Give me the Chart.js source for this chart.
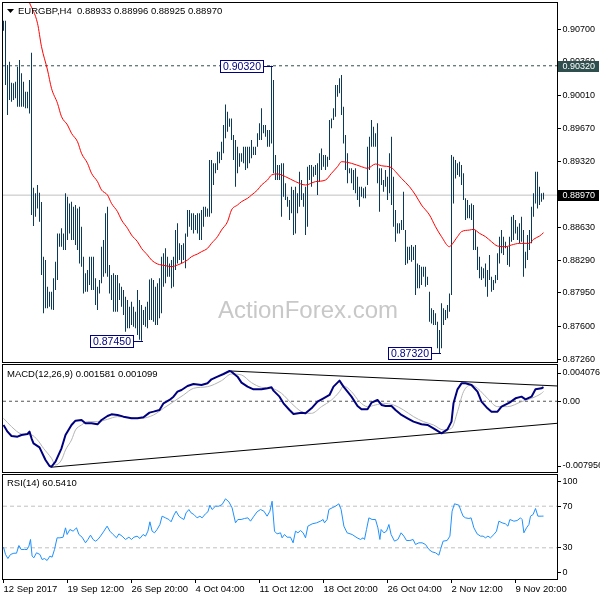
<!DOCTYPE html>
<html>
<head>
<meta charset="utf-8">
<script src="https://cdn.jsdelivr.net/npm/chart.js@4.4.0/dist/chart.umd.min.js"></script>
<style>
  html, body { margin: 0; padding: 0; background: #fff; }
  #wrap { position: relative; width: 600px; height: 600px; overflow: hidden; background: #fff; }
  canvas { position: absolute; left: 0; }
</style>
</head>
<body>
<div id="wrap">
  <canvas id="priceCv" width="600" height="364" style="top:0;width:600px;height:364px"></canvas>
  <canvas id="macdCv" width="600" height="110" style="top:364px;width:600px;height:110px"></canvas>
  <canvas id="rsiCv" width="600" height="126" style="top:474px;width:600px;height:126px"></canvas>
</div>
<script>
// EURGBP H4 bars, one per index (0 = 12 Sep 2017 00:00)
const highs = [
  0.90790, 0.90790, 0.90328, 0.90363, 0.90143, 0.90137, 0.90154, 0.90310, 0.90380, 0.90241,
  0.90154, 0.90050, 0.90050, 0.90171, 0.90456, 0.89048, 0.88989, 0.89076, 0.88996, 0.88898,
  0.88328, 0.88293, 0.88015, 0.87963, 0.87963, 0.88102, 0.88276, 0.88571, 0.88571, 0.88624,
  0.88571, 0.88989, 0.88954, 0.88884, 0.88902, 0.88850, 0.88867, 0.88832, 0.88850, 0.88641,
  0.88328, 0.88154, 0.88189, 0.88328, 0.88328, 0.88328, 0.88102, 0.88015, 0.88085, 0.88432,
  0.88502, 0.88780, 0.88850, 0.88241, 0.88137, 0.88154, 0.88137, 0.88137, 0.88050, 0.88015,
  0.87980, 0.87911, 0.87876, 0.87806, 0.87858, 0.87806, 0.87754, 0.87980, 0.87876, 0.87824,
  0.87771, 0.87806, 0.87858, 0.88091, 0.88102, 0.88085, 0.88015, 0.88050, 0.88102, 0.88328,
  0.88363, 0.88415, 0.88328, 0.88258, 0.88293, 0.88328, 0.88606, 0.88676, 0.88467, 0.88450,
  0.88467, 0.88571, 0.88815, 0.88815, 0.88780, 0.88780, 0.88763, 0.88780, 0.88780, 0.88815,
  0.88850, 0.88850, 0.88832, 0.89337, 0.89337, 0.89302, 0.89302, 0.89424, 0.89424, 0.89528,
  0.89702, 0.89917, 0.89841, 0.89771, 0.89771, 0.89597, 0.89545, 0.89476, 0.89406, 0.89406,
  0.89476, 0.89476, 0.89476, 0.89476, 0.89545, 0.89476, 0.89476, 0.89615, 0.89719, 0.89876,
  0.89702, 0.89702, 0.89650, 0.89650, 0.90320, 0.90171, 0.89389, 0.89284, 0.89284, 0.89302,
  0.89302, 0.89093, 0.88954, 0.88919, 0.89058, 0.89024, 0.89058, 0.88989, 0.89215, 0.89128,
  0.88989, 0.89058, 0.89267, 0.89284, 0.89284, 0.89267, 0.89284, 0.89302, 0.89406, 0.89458,
  0.89389, 0.89389, 0.89371, 0.89754, 0.89771, 0.89876, 0.90119, 0.90119, 0.90189, 0.90223,
  0.89893, 0.89597, 0.89406, 0.89250, 0.89250, 0.89232, 0.89250, 0.89163, 0.89058, 0.89058,
  0.89041, 0.89058, 0.89476, 0.89580, 0.89754, 0.89684, 0.89615, 0.89719, 0.89250, 0.89250,
  0.89128, 0.89232, 0.89163, 0.89406, 0.89580, 0.89163, 0.88815, 0.88676, 0.88676, 0.88711,
  0.89006, 0.88606, 0.88432, 0.88432, 0.88450, 0.88432, 0.88450, 0.88258, 0.88241, 0.88224,
  0.88224, 0.88224, 0.88119, 0.87963, 0.87789, 0.87771, 0.87737, 0.87650, 0.87563, 0.87841,
  0.87789, 0.87771, 0.87824, 0.87945, 0.89389, 0.89371, 0.89337, 0.89302, 0.89319, 0.89284,
  0.89198, 0.88937, 0.88919, 0.88867, 0.88884, 0.88867, 0.88606, 0.88432, 0.88328, 0.88224,
  0.88206, 0.88258, 0.88189, 0.88345, 0.88119, 0.88085, 0.88137, 0.88363, 0.88537, 0.88606,
  0.88537, 0.88484, 0.88432, 0.88537, 0.88745, 0.88763, 0.88711, 0.88641, 0.88676, 0.88745,
  0.88606, 0.88380, 0.88554, 0.88606, 0.88850, 0.88989, 0.89215, 0.89215, 0.89058, 0.88989,
  0.88996
];
const lows = [
  0.90686, 0.90119, 0.89806, 0.89963, 0.89945, 0.89963, 0.89980, 0.89893, 0.89893, 0.89893,
  0.89893, 0.89876, 0.89876, 0.89823, 0.88763, 0.88648, 0.88745, 0.88832, 0.88693, 0.88137,
  0.87737, 0.87789, 0.87789, 0.87806, 0.87778, 0.87771, 0.87980, 0.88085, 0.88432, 0.88432,
  0.88398, 0.88398, 0.88502, 0.88571, 0.88502, 0.88502, 0.88450, 0.88398, 0.88258, 0.88224,
  0.87945, 0.87963, 0.87963, 0.88032, 0.87980, 0.87980, 0.87824, 0.87771, 0.87945, 0.88050,
  0.88119, 0.88154, 0.88119, 0.87945, 0.87876, 0.87754, 0.87754, 0.87754, 0.87876, 0.87806,
  0.87719, 0.87545, 0.87580, 0.87580, 0.87615, 0.87598, 0.87580, 0.87510, 0.87460, 0.87450,
  0.87615, 0.87598, 0.87580, 0.87667, 0.87667, 0.87650, 0.87615, 0.87615, 0.87685, 0.87737,
  0.88015, 0.88050, 0.88119, 0.88119, 0.87998, 0.88015, 0.88189, 0.88258, 0.88293, 0.88258,
  0.88293, 0.88206, 0.88537, 0.88641, 0.88606, 0.88571, 0.88606, 0.88571, 0.88502, 0.88502,
  0.88641, 0.88745, 0.88745, 0.88745, 0.88780, 0.89076, 0.89198, 0.89232, 0.89302, 0.89337,
  0.89406, 0.89563, 0.89632, 0.89684, 0.89545, 0.89337, 0.89058, 0.89198, 0.89267, 0.89319,
  0.89302, 0.89232, 0.89250, 0.89302, 0.89354, 0.89389, 0.89389, 0.89476, 0.89545, 0.89545,
  0.89615, 0.89580, 0.89476, 0.89476, 0.89510, 0.89198, 0.89128, 0.89128, 0.89128, 0.88745,
  0.88954, 0.88919, 0.88850, 0.88711, 0.88780, 0.88554, 0.88571, 0.88780, 0.88850, 0.88919,
  0.88850, 0.88554, 0.88641, 0.89128, 0.89058, 0.89163, 0.89180, 0.88971, 0.89111, 0.89232,
  0.89267, 0.89232, 0.89267, 0.89337, 0.89667, 0.89754, 0.89789, 0.89997, 0.90032, 0.89806,
  0.89510, 0.89232, 0.89093, 0.89198, 0.89093, 0.89024, 0.88989, 0.88919, 0.88850, 0.88954,
  0.88937, 0.88937, 0.89076, 0.89232, 0.89476, 0.89476, 0.89476, 0.89093, 0.88798, 0.89076,
  0.89006, 0.89058, 0.88919, 0.88989, 0.88867, 0.88641, 0.88485, 0.88571, 0.88571, 0.88606,
  0.88606, 0.88241, 0.88258, 0.88293, 0.88276, 0.88293, 0.87928, 0.87998, 0.87998, 0.88032,
  0.88119, 0.88015, 0.88032, 0.87650, 0.87632, 0.87615, 0.87615, 0.87372, 0.87320, 0.87372,
  0.87615, 0.87667, 0.87685, 0.87754, 0.87928, 0.88884, 0.89145, 0.89180, 0.89163, 0.89076,
  0.88919, 0.88711, 0.88728, 0.88728, 0.88711, 0.88398, 0.88398, 0.88189, 0.88102, 0.88085,
  0.88102, 0.88015, 0.87911, 0.88085, 0.87963, 0.87980, 0.88050, 0.88085, 0.88258, 0.88363,
  0.88345, 0.88415, 0.88241, 0.88224, 0.88484, 0.88502, 0.88571, 0.88502, 0.88467, 0.88484,
  0.88119, 0.88206, 0.88293, 0.88398, 0.88467, 0.88745, 0.88884, 0.88832, 0.88867, 0.88902,
  0.88925
];

// red moving average (bar index, price)
const maIdx = [13, 17, 19, 22, 24, 27, 29, 32, 34, 37, 39, 42, 44, 47, 49, 52, 54, 57, 59, 62,
  64, 67, 69, 72, 74, 77, 79, 82, 84, 87, 89, 92, 94, 97, 99, 102, 104, 107, 109, 112,
  114, 117, 119, 122, 124, 127, 129, 132, 134, 137, 141, 146, 151, 156, 161, 164, 167, 169, 174, 179,
  182, 186, 189, 194, 196, 199, 203, 206, 209, 213, 216, 219, 223, 224, 227, 229, 233, 235, 238, 241,
  244, 247, 251, 254, 258, 263, 265, 268, 270];
const maVal = [0.90978, 0.90763, 0.90519, 0.90276, 0.90084, 0.89928, 0.89789, 0.89702, 0.89615, 0.89528,
  0.89406, 0.89302, 0.89198, 0.89111, 0.89024, 0.88971, 0.88884, 0.88798, 0.88711, 0.88624,
  0.88554, 0.88484, 0.88415, 0.88345, 0.88293, 0.88252, 0.88241, 0.88230, 0.88224, 0.88241,
  0.88258, 0.88293, 0.88328, 0.88356, 0.88380, 0.88415, 0.88467, 0.88537, 0.88606, 0.88693,
  0.88815, 0.88867, 0.88902, 0.88937, 0.88971, 0.89024, 0.89076, 0.89128, 0.89180, 0.89191,
  0.89163, 0.89111, 0.89076, 0.89111, 0.89128, 0.89198, 0.89267, 0.89319, 0.89302, 0.89267,
  0.89250, 0.89295, 0.89277, 0.89257, 0.89215, 0.89145, 0.89058, 0.88971, 0.88867, 0.88763,
  0.88641, 0.88537, 0.88432, 0.88450, 0.88537, 0.88589, 0.88606, 0.88613, 0.88571, 0.88537,
  0.88484, 0.88439, 0.88432, 0.88450, 0.88467, 0.88467, 0.88509, 0.88543, 0.88578];

// MACD(12,26,9) main line
const macdIdx = [0, 2, 4, 7, 9, 12, 13, 14, 15, 18, 19, 21, 23, 24, 26, 29, 31, 34, 36, 39,
  41, 44, 47, 49, 52, 54, 57, 60, 64, 67, 70, 73, 75, 78, 80, 83, 85, 87, 89, 92,
  95, 99, 102, 104, 107, 110, 113, 114, 117, 119, 122, 125, 129, 132, 134, 135, 138, 140, 143, 145,
  149, 151, 154, 157, 160, 163, 165, 168, 170, 174, 177, 179, 182, 184, 187, 189, 191, 194, 196, 199,
  202, 205, 209, 212, 215, 219, 222, 224, 225, 227, 229, 231, 234, 237, 239, 242, 244, 247, 249, 253,
  256, 259, 261, 264, 266, 269, 270];
const macdVal = [-0.002669, -0.003418, -0.003905, -0.003980, -0.003793, -0.003680, -0.003418, -0.004167, -0.004730, -0.005179,
  -0.005666, -0.006603, -0.007277, -0.007352, -0.006790, -0.005292, -0.003793, -0.002669, -0.002182, -0.002107,
  -0.002481, -0.002481, -0.002594, -0.002107, -0.001657, -0.001470, -0.001545, -0.001732, -0.001919, -0.001919,
  -0.001807, -0.001282, -0.001170, -0.000983, -0.000233, 0.000142, 0.000516, 0.001078, 0.001266, 0.001715,
  0.001940, 0.001828, 0.002015, 0.002465, 0.002765, 0.003064, 0.003402, 0.003327, 0.002765, 0.002090,
  0.001640, 0.001341, 0.001341, 0.001453, 0.001565, 0.001191, 0.000516, -0.000233, -0.000983, -0.001432,
  -0.001282, -0.001357, -0.000795, -0.000046, 0.000329, 0.000704, 0.001640, 0.002315, 0.001640, 0.000516,
  -0.000533, -0.000908, -0.000908, -0.000158, 0.000142, -0.000420, -0.000533, -0.000533, -0.000983, -0.001545,
  -0.001919, -0.002294, -0.002594, -0.002669, -0.003043, -0.003605, -0.003156, -0.002294, -0.000233, 0.001341,
  0.002015, 0.002015, 0.001828, 0.001078, -0.000046, -0.000795, -0.001170, -0.001170, -0.000608, -0.000158,
  0.000329, 0.000516, 0.000217, 0.000516, 0.001341, 0.001453, 0.001581];

// MACD signal line
const sigIdx = [0, 4, 9, 14, 17, 20, 24, 26, 29, 31, 34, 36, 39, 42, 47, 52, 57, 62, 69, 75,
  80, 85, 90, 95, 102, 109, 114, 119, 124, 129, 134, 139, 144, 149, 154, 159, 164, 168, 170, 174,
  178, 182, 186, 190, 195, 200, 205, 210, 215, 220, 224, 227, 230, 234, 237, 242, 247, 252, 259, 264,
  269, 270];
const sigVal = [-0.001919, -0.002856, -0.003680, -0.003793, -0.004355, -0.005292, -0.006416, -0.007165, -0.006603, -0.005479,
  -0.004355, -0.003231, -0.002669, -0.002294, -0.002294, -0.002032, -0.001732, -0.001807, -0.001919, -0.001545,
  -0.000795, -0.000046, 0.000704, 0.001453, 0.001640, 0.002315, 0.003064, 0.002952, 0.002090, 0.001565,
  0.001453, 0.000891, -0.000233, -0.001170, -0.001357, -0.000608, 0.000142, 0.001078, 0.001715, 0.001078,
  -0.000046, -0.000608, -0.000420, -0.000233, -0.000420, -0.000983, -0.001732, -0.002294, -0.002669, -0.003231,
  -0.003043, -0.001170, 0.001078, 0.001828, 0.001453, 0.000329, -0.000608, -0.000608, -0.000046, 0.000329,
  0.000891, 0.001099];

// trend lines drawn on the MACD window (bar index, value)
const upperTrendIdx = [113.5, 276.75];
const upperTrendVal = [0.003402, 0.001719];
const lowerTrendIdx = [23.5, 276.75];
const lowerTrendVal = [-0.007423, -0.002482];

// RSI(14)
const rsiIdx = [0, 1, 2.2, 3.5, 5.2, 6.5, 7.7, 8.8, 10.5, 11.8, 12.7, 13.5, 14.3, 15.2, 16.5, 18.2, 19.3, 20.5, 21.8, 23.2,
  24.3, 25.5, 26.8, 28.2, 29.8, 31, 31.8, 33.2, 34.8, 36.5, 37.7, 39.3, 41, 42.2, 43.5, 44.8, 46, 47.2, 48.5, 50.2,
  51.8, 53.2, 54.8, 56.5, 57.7, 59.3, 61, 62.7, 64, 65.2, 66.8, 68.2, 69.8, 71, 72.2, 73.2, 74.3, 75.5, 76.8, 78.2,
  79.3, 81, 82.7, 83.8, 85.2, 86.3, 87.7, 88.8, 90.2, 91.3, 92.7, 93.8, 95.2, 96.8, 98.2, 99.3, 101, 102.2, 103.2, 104.3,
  106, 107.7, 109.3, 111, 112.7, 114.3, 116, 117.2, 118.8, 120.5, 122.2, 123.5, 125.2, 126.8, 128.5, 130.2, 131.8, 133.2, 134.3, 135.5,
  136.8, 138.5, 139.3, 140.5, 141.8, 143.5, 144.8, 146, 147.2,
  148.5, 149.8, 151, 152.2, 154.3, 156.5, 158.5, 159.8, 160.5, 161.8, 162.7, 164.3, 166, 167.7, 168.8, 170.2, 171.8, 174.3, 176.8, 178.5,
  179.8, 180.5, 181.5, 182.7, 184.3, 186, 187.2, 188.2, 188.8, 190.2, 191.5, 192.7, 193.8, 195.5, 197.2, 198.8, 200.2, 201.5, 203.2, 204.8,
  206, 207.7, 209.3, 211, 212.7, 214.3, 216, 217.7, 218.5, 219.8, 221.8, 223.2, 224.3, 225.5, 227.7, 228.8, 229.8, 231, 232.7, 233.8,
  235.2, 236.8, 238.5, 239.8, 241, 242.2, 243.5, 245.2, 246.5, 247.7, 249.3, 251, 252.2, 253.2, 255.2, 256.8, 258.5, 259.3, 260.2, 261.5,
  262.7, 263.5, 264.8, 266, 267.2, 268.8, 270];
const rsiVal = [30.6, 23.6, 19.7, 23.6, 24.8, 24.8, 32.2, 28.4, 28.4, 28.4, 31.6, 38.0, 22.0, 20.4, 25.2, 23.6, 18.7, 19.7, 17.8, 22.0,
  21.0, 28.4, 39.6, 39.6, 40.2, 49.2, 42.8, 47.6, 46.0, 49.2, 42.8, 40.2, 34.8, 38.0, 42.2, 38.0, 36.4, 38.0, 41.2, 46.0,
  50.8, 46.0, 42.8, 39.6, 43.4, 41.2, 38.0, 40.2, 38.0, 40.2, 41.2, 39.0, 42.8, 41.2, 46.0, 55.0, 46.0, 44.4, 47.6, 52.4,
  60.4, 58.8, 57.2, 55.0, 61.4, 65.2, 60.4, 58.8, 57.2, 63.6, 66.8, 63.6, 62.0, 58.8, 60.4, 58.8, 62.7, 64.6, 71.0, 66.8,
  70.0, 70.0, 71.6, 77.1, 74.2, 68.4, 54.0, 57.2, 57.2, 58.2, 58.8, 55.6, 60.4, 64.6, 66.8, 65.2, 60.4, 65.2, 74.8, 46.0,
  43.4, 44.4, 39.6, 42.8, 40.2, 40.2, 34.8, 46.0, 44.4,
  46.6, 44.4, 39.6, 50.8, 53.0, 54.0, 55.6, 57.2, 54.0, 57.2, 66.8, 68.4, 70.0, 72.3, 66.8, 50.8, 44.4, 42.8, 39.6, 38.0,
  39.6, 38.0, 47.6, 58.8, 57.2, 57.2, 49.2, 38.0, 47.6, 44.4, 46.0, 52.4, 42.8, 36.4, 38.0, 44.4, 41.2, 37.0, 37.0, 38.0,
  33.2, 34.8, 34.8, 33.2, 28.4, 26.1, 25.2, 22.9, 28.4, 36.4, 37.0, 41.2, 65.2, 72.3, 71.0, 65.2, 60.4, 58.8, 58.2, 58.8,
  49.2, 43.4, 41.2, 41.2, 39.6, 41.2, 39.6, 42.8, 46.0, 55.6, 54.0, 53.0, 50.8, 57.2, 55.6, 56.2, 58.8, 57.2, 44.4, 49.2,
  52.4, 60.4, 62.0, 67.8, 60.4, 60.4, 60.5];
const rsiLevels = [30, 70];

// axis ticks and labels
const xTickIdx = [0, 32, 64, 96, 128, 160, 192, 224, 256];
const xTickLabels = ['12 Sep 2017', '19 Sep 12:00', '26 Sep 20:00', '4 Oct 04:00', '11 Oct 12:00',
  '18 Oct 20:00', '26 Oct 04:00', '2 Nov 12:00', '9 Nov 20:00'];
const priceTicks = [0.87260, 0.87600, 0.87950, 0.88290, 0.88630, 0.89320, 0.89670, 0.90010, 0.90360, 0.90700];
const macdLabels = ['-0.007956', '0.00', '0.004076'];
const rsiLabels = ['0', '30', '70', '100'];

// marked levels
const lastPrice = 0.88970;
const highLevel = 0.90320;
const annIdx = [134, 69, 218];
const annVal = [0.90320, 0.87450, 0.87320];
const annText = ['0.90320', '0.87450', '0.87320'];

const titleText = 'EURGBP,H4  0.88933 0.88996 0.88925 0.88970';
const macdTitle = 'MACD(12,26,9) 0.001581 0.001099';
const rsiTitle = 'RSI(14) 60.5410';

const X_MIN = -0.25, X_MAX = 276.75;
const P_MIN = 0.87229, P_MAX = 0.90975;
const M_MIN = -0.007956, M_MAX = 0.004076;

const FAMILY = '"Liberation Sans", Arial, sans-serif';
const SMALL = '9.5px ' + FAMILY;
const AXIS = '9px ' + FAMILY;
Chart.defaults.font.family = FAMILY;
Chart.defaults.font.size = 9;
Chart.defaults.color = '#000';
Chart.defaults.animation = false;
Chart.defaults.events = [];
Chart.defaults.plugins.legend.display = false;
Chart.defaults.plugins.tooltip.enabled = false;

const pts = (xs, ys) => xs.map((x, k) => ({ x: x, y: ys[k] }));
const flat = v => [{ x: X_MIN, y: v }, { x: X_MAX, y: v }];

function xScale(show) {
  return {
    type: 'linear', min: X_MIN, max: X_MAX, offset: false, display: show,
    grid: { drawOnChartArea: false, drawTicks: true, tickLength: 4, color: '#000' },
    border: { display: false },
    afterBuildTicks: s => { s.ticks = xTickIdx.map(v => ({ value: v })); },
    afterFit: s => { s.height = show ? 21 : 0; s.paddingLeft = 0; s.paddingRight = 0; },
    ticks: { align: 'start', autoSkip: false, maxRotation: 0, padding: 1, font: { size: 9.5 },
      callback: (v, k) => xTickLabels[k] }
  };
}

function yScale(min, max, vals, text) {
  return {
    type: 'linear', position: 'right', min: min, max: max,
    grid: { drawOnChartArea: false, drawTicks: true, tickLength: 4, color: '#000' },
    border: { display: false },
    afterBuildTicks: s => { s.ticks = vals.map(v => ({ value: v })); },
    afterFit: s => { s.width = 43; s.paddingTop = 0; s.paddingBottom = 0; },
    ticks: { padding: 1.5, autoSkip: false, callback: (v, k) => text[k] }
  };
}

const frame = {
  id: 'frame',
  afterDraw(chart) {
    const { ctx, chartArea: a } = chart;
    ctx.save();
    ctx.strokeStyle = '#000';
    ctx.lineWidth = 1;
    ctx.strokeRect(a.left - 0.5, a.top - 0.5, a.right - a.left + 1, a.bottom - a.top + 1);
    ctx.restore();
  }
};

function caption(text, yMid) {
  return {
    id: 'caption',
    afterDraw(chart) {
      const ctx = chart.ctx;
      ctx.save();
      ctx.font = SMALL;
      ctx.fillStyle = '#000';
      ctx.textBaseline = 'middle';
      ctx.fillText(text, 7, yMid);
      ctx.restore();
    }
  };
}

const priceDecor = {
  id: 'priceDecor',
  beforeDatasetsDraw(chart) {
    const ctx = chart.ctx;
    ctx.save();
    ctx.font = '24px ' + FAMILY;
    ctx.fillStyle = '#c8c8c8';
    ctx.fillText('ActionForex.com', 218, 318);
    ctx.restore();
  },
  afterDraw(chart) {
    const { ctx, scales: { x, y } } = chart;
    ctx.save();
    // title
    ctx.fillStyle = '#000';
    ctx.beginPath();
    ctx.moveTo(7, 9); ctx.lineTo(14, 9); ctx.lineTo(10.5, 13); ctx.closePath();
    ctx.fill();
    ctx.font = SMALL;
    ctx.textBaseline = 'middle';
    ctx.fillText(titleText, 18, 11);

    // boxed high / low labels
    ctx.font = '10.5px ' + FAMILY;
    ctx.lineWidth = 1;
    annIdx.forEach((idx, k) => {
      const px = Math.round(x.getPixelForValue(idx));
      const py = Math.round(y.getPixelForValue(annVal[k])) + 0.5;
      const w = 43, h = 12, right = px - 9;
      ctx.fillStyle = '#fff';
      ctx.fillRect(right - w, py - h / 2, w, h);
      ctx.strokeStyle = '#000080';
      ctx.strokeRect(right - w + 0.5, py - h / 2, w, h);
      ctx.beginPath();
      ctx.moveTo(right, py); ctx.lineTo(px + 1, py);
      ctx.stroke();
      ctx.fillStyle = '#000080';
      ctx.textAlign = 'center';
      ctx.fillText(annText[k], right - w / 2 + 0.5, py + 0.5);
    });

    // price labels on the axis
    ctx.textAlign = 'left';
    ctx.font = AXIS;
    [[highLevel, '#2f4f4f'], [lastPrice, '#000']].forEach(([v, fill]) => {
      const py = Math.round(y.getPixelForValue(v));
      ctx.fillStyle = fill;
      ctx.fillRect(558, py - 5, 41, 11);
      ctx.fillStyle = '#fff';
      ctx.fillText(v.toFixed(5), 562.5, py + 0.5);
    });
    ctx.restore();
  }
};

new Chart(document.getElementById('priceCv'), {
  type: 'bar',
  data: {
    datasets: [
      { type: 'line', data: flat(lastPrice), borderColor: '#c0c0c0', borderWidth: 1, pointRadius: 0, order: 3 },
      { type: 'line', data: flat(highLevel), borderColor: '#2f4f4f', borderWidth: 1, borderDash: [3, 3], pointRadius: 0, order: 2 },
      { type: 'bar', data: highs.map((h, k) => ({ x: k, y: [lows[k], h] })), backgroundColor: '#0b3a5a',
        barThickness: 1, borderWidth: 0, inflateAmount: 0, order: 1 },
      { type: 'line', data: pts(maIdx, maVal), borderColor: '#ff0000', borderWidth: 1, pointRadius: 0,
        cubicInterpolationMode: 'monotone', order: 0 }
    ]
  },
  options: {
    responsive: false,
    layout: { padding: { left: 3, top: 3, bottom: 2, right: 0 }, autoPadding: false },
    scales: {
      x: xScale(false),
      y: yScale(P_MIN, P_MAX, priceTicks, priceTicks.map(v => v.toFixed(5)))
    }
  },
  plugins: [priceDecor, frame]
});

const mStep = (M_MAX - M_MIN) / 107;
new Chart(document.getElementById('macdCv'), {
  type: 'line',
  data: {
    datasets: [
      { data: flat(0), borderColor: '#555', borderWidth: 1, borderDash: [3, 3], pointRadius: 0, order: 4 },
      { data: pts(upperTrendIdx, upperTrendVal), borderColor: '#000', borderWidth: 1, pointRadius: 0, order: 3 },
      { data: pts(lowerTrendIdx, lowerTrendVal), borderColor: '#000', borderWidth: 1, pointRadius: 0, order: 3 },
      { data: pts(sigIdx, sigVal), borderColor: '#b4b4b4', borderWidth: 1, pointRadius: 0,
        cubicInterpolationMode: 'monotone', order: 1 },
      { data: pts(macdIdx, macdVal), borderColor: '#00007f', borderWidth: 2, pointRadius: 0,
        borderJoinStyle: 'round', order: 0 }
    ]
  },
  options: {
    responsive: false,
    layout: { padding: { left: 3, top: 1, bottom: 2, right: 0 }, autoPadding: false },
    scales: {
      x: xScale(false),
      y: yScale(M_MIN, M_MAX, [M_MIN + 6 * mStep, 0, M_MAX - 8 * mStep], macdLabels)
    }
  },
  plugins: [caption(macdTitle, 10.5), frame]
});

new Chart(document.getElementById('rsiCv'), {
  type: 'line',
  data: {
    datasets: [
      ...rsiLevels.map(v => ({ data: flat(v), borderColor: '#c0c0c0', borderWidth: 1, borderDash: [4, 3],
        pointRadius: 0, order: 2 })),
      { data: pts(rsiIdx, rsiVal), borderColor: '#1e90ff', borderWidth: 1, pointRadius: 0, order: 0 }
    ]
  },
  options: {
    responsive: false,
    layout: { padding: { left: 3, top: 1, bottom: 0, right: 0 }, autoPadding: false },
    scales: {
      x: xScale(true),
      y: yScale(0, 100, [6.2, 30, 70, 94.2], rsiLabels)
    }
  },
  plugins: [caption(rsiTitle, 9), frame]
});
</script>
</body>
</html>
